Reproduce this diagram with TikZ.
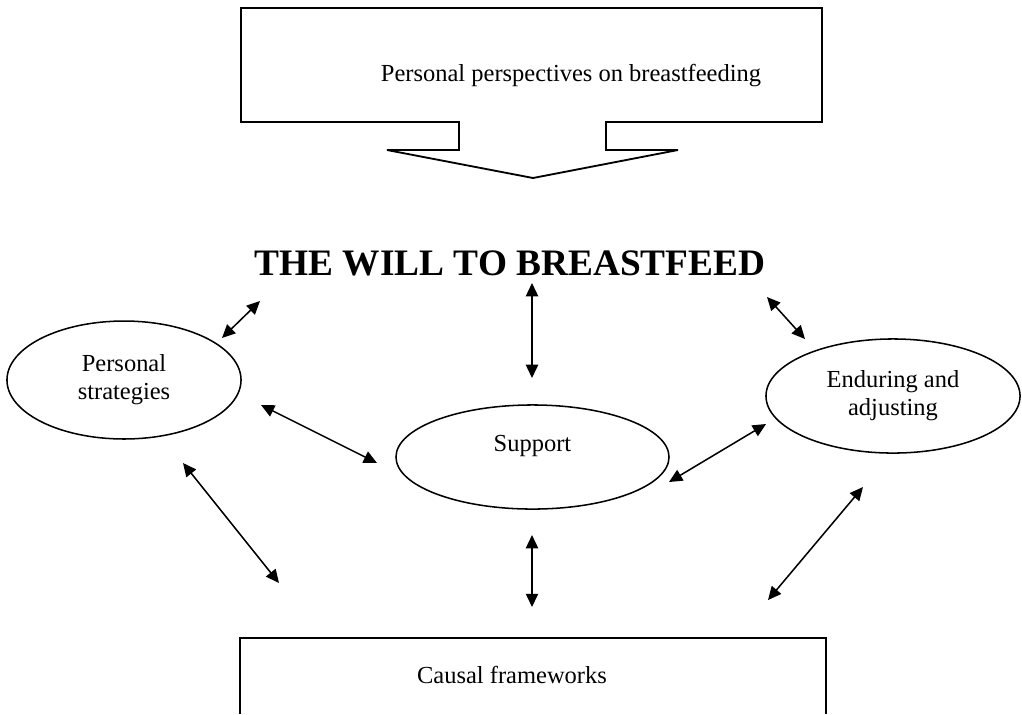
\documentclass[tikz,border=0pt]{standalone}
\usepackage{fontspec}
\setmainfont{Liberation Serif}
\usetikzlibrary{shapes.geometric,arrows.meta}

\begin{document}
\begin{tikzpicture}[x=0.49pt,y=-0.49pt,
  every node/.style={font=\fontsize{12}{13.8}\selectfont},
  theme/.style={draw,ellipse,line width=0.75pt,align=center,inner sep=0pt},
  frame/.style={line width=0.9pt},
  link/.style={{Triangle[length=6.5pt,width=6pt]}-{Triangle[length=6.5pt,width=6pt]},line width=0.75pt}]
\useasboundingbox (0,0) rectangle (1022,714);

% arrow box on top
\draw[frame] (241,8) -- (822,8) -- (822,122) -- (606,122) -- (606,150) -- (678,150)
  -- (533,178) -- (387,150) -- (459,150) -- (459,122) -- (241,122) -- cycle;
\node (persp) at (571,76) {Personal perspectives on breastfeeding};

\node[font=\fontsize{18.3}{20}\selectfont\bfseries] (will) at (510,263) {THE WILL TO BREASTFEED};

% themes
\node[theme,minimum width=114.7pt,minimum height=57.8pt] (ps) at (124,380) {Personal\\strategies};
\node[theme,minimum width=133.8pt,minimum height=51pt] (sup) at (532.5,457) {Support\\\mbox{}};
\node[theme,minimum width=124.5pt,minimum height=55.9pt] (ea) at (893,396) {Enduring and\\adjusting};

% open box at the bottom
\draw[frame] (240,714) |- (826,638) -- (826,714);
\node (caus) at (512,675) {Causal frameworks};

\coordinate (psN) at (222,338);   \coordinate (willW) at (260,301);
\coordinate (psE) at (261,405);   \coordinate (supW) at (377,463);
\coordinate (psS) at (183,463);   \coordinate (causW) at (279,583);
\coordinate (willS) at (532,283); \coordinate (supN) at (532,378);
\coordinate (willE) at (767,297); \coordinate (eaN) at (805,339);
\coordinate (supE) at (669,482);  \coordinate (eaW) at (766,424);
\coordinate (eaS) at (863,487);   \coordinate (causE) at (768,600);
\coordinate (supS) at (532,535);  \coordinate (causN) at (532,607);

\foreach \a/\b in {psN/willW, psE/supW, psS/causW, willS/supN, willE/eaN, supE/eaW, eaS/causE, supS/causN} {
\draw[link] (\a) -- (\b);
}
\end{tikzpicture}
\end{document}
